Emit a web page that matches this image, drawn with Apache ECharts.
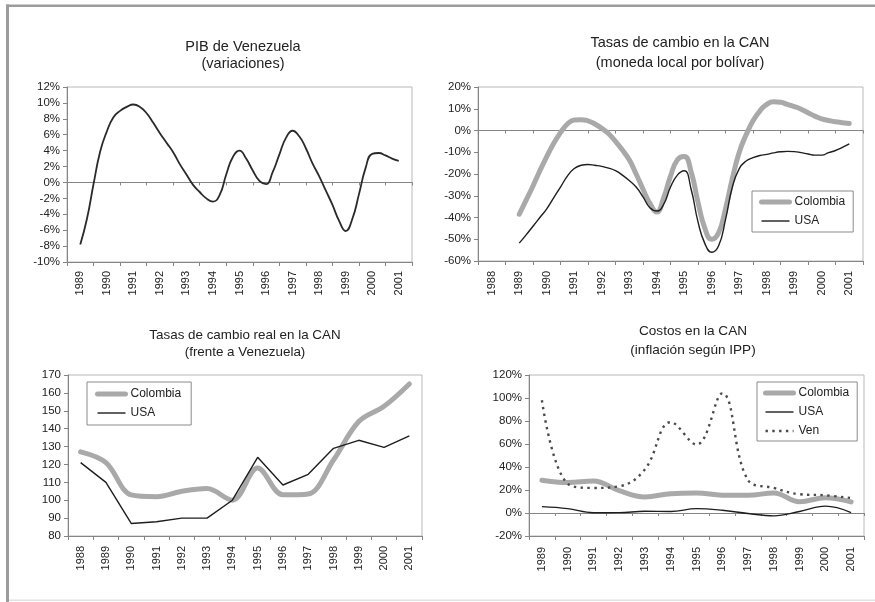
<!DOCTYPE html>
<html>
<head>
<meta charset="utf-8">
<script src="https://cdn.jsdelivr.net/npm/echarts@6/dist/echarts.min.js"></script>
<style>
  html, body { margin: 0; padding: 0; background: #fff; }
  #chart { width: 875px; height: 602px; }
</style>
</head>
<body>
<div id="chart"></div>
<script>
const FONT = 'Arial, "Liberation Sans", sans-serif'
const INK = '#222'
const AXIS_GRAY = '#858585'
const BORDER_GRAY = '#b8b8b8'
const THICK_GRAY = '#a9a9a9'
const DARK_LINE = '#1e1e1e'

// PIB de Venezuela, quarterly points starting at 1989 (%)
const pibYears = ['1989', '1990', '1991', '1992', '1993', '1994', '1995', '1996', '1997', '1998', '1999', '2000', '2001']
const pibQuarterly = [
  -7.8, -4.6, -0.2, 3.9,
  6.4, 8.2, 9.0, 9.5,
  9.8, 9.5, 8.7, 7.5,
  6.2, 5.0, 3.8, 2.3,
  1.0, -0.3, -1.2, -2.0,
  -2.4, -1.6, 1.0, 3.2,
  4.0, 3.0, 1.5, 0.2,
  -0.2, 1.3, 3.5, 5.6,
  6.5, 5.8, 4.3, 2.4,
  0.8, -1.0, -2.8, -4.8,
  -6.1, -4.6, -1.5, 1.8,
  3.6, 3.7, 3.4, 3.0,
  2.7,
]

// Tasas de cambio nominales, quarterly points starting at 1989 (%)
const canYears = ['1988', '1989', '1990', '1991', '1992', '1993', '1994', '1995', '1996', '1997', '1998', '1999', '2000', '2001']
const canColombia = [
  -38.5, -32, -25.5, -18.5,
  -12, -6, -1, 3,
  4.8, 5, 4.4, 3,
  1, -1.5, -5, -9,
  -13.5, -20, -27, -33.5,
  -37.5, -31, -21, -13.5,
  -12, -19, -33, -45,
  -50, -47, -36, -22,
  -10, -2, 4.5, 9,
  12, 13.2, 13, 12,
  11, 9.8, 8.2, 6.6,
  5.3, 4.6, 4, 3.6,
  3.2,
]
const canUsa = [
  -51.8, -48, -44, -40,
  -36, -31, -26, -21,
  -17.5, -16, -15.6, -16,
  -16.5, -17.3, -18.5, -20.5,
  -23, -26, -30.5, -35.5,
  -37, -34, -26, -20.5,
  -18.5, -27, -42, -52,
  -56, -53, -41, -26,
  -17.5, -14, -12.5, -11.5,
  -11, -10.3, -9.8, -9.6,
  -9.7, -10.2, -10.8, -11.3,
  -11.3, -10.2, -9.2, -7.8,
  -6.2,
]

// Tasas de cambio real (indice)
const realYears = ['1988', '1989', '1990', '1991', '1992', '1993', '1994', '1995', '1996', '1997', '1998', '1999', '2000', '2001']
const realColombia = [127, 121, 103, 102, 105, 106.5, 100, 118, 103, 103.5, 122.5, 144, 152.5, 165]
const realUsa = [121, 110, 87, 88, 90, 90, 100, 124, 108.5, 114.5, 129, 133.5, 129.5, 136]

// Inflacion segun IPP (%)
const ippYears = ['1989', '1990', '1991', '1992', '1993', '1994', '1995', '1996', '1997', '1998', '1999', '2000', '2001']
const ippColombia = [28.5, 26.5, 27.8, 19.5, 14, 16.8, 17.4, 15.5, 15.4, 17.4, 9.8, 13.2, 9.6]
const ippUsa = [5.5, 3.8, 0.2, 0.3, 1.5, 1.3, 3.8, 2.4, -0.4, -2.5, 1.3, 6.0, 0.4]
const ippVen = [98, 25.5, 21.8, 23.2, 38, 79, 59.5, 104, 28.5, 21.8, 16.3, 15.4, 13]

// quarterly values -> [fractional year, value]
const toQuarterPoints = (startYear, values) => values.map((v, i) => [startYear + i / 4, v])

const chart = echarts.init(document.getElementById('chart'))

const catAxis = (gridIndex, data, margin) => ({
  type: 'category',
  gridIndex,
  data,
  position: 'bottom',
  boundaryGap: true,
  axisLine: { onZero: false, lineStyle: { color: AXIS_GRAY, width: 1 } },
  axisTick: { show: true, interval: 0, length: 4, lineStyle: { color: AXIS_GRAY } },
  axisLabel: { rotate: 90, interval: 0, margin, fontSize: 11, color: INK, fontFamily: FONT },
  splitLine: { show: false },
})

// second category axis, only to draw the 0 line with its ticks
const zeroAxis = (gridIndex, data) => ({
  type: 'category',
  gridIndex,
  data,
  position: 'bottom',
  boundaryGap: true,
  axisLine: { onZero: true, lineStyle: { color: AXIS_GRAY, width: 1 } },
  axisTick: { show: true, interval: 0, length: 3, lineStyle: { color: AXIS_GRAY } },
  axisLabel: { show: false },
  splitLine: { show: false },
})

// hidden value axis for the quarterly curves (1 unit = 1 year)
const yearAxis = (gridIndex, years) => ({
  type: 'value',
  gridIndex,
  position: 'top',
  min: Number(years[0]) - 0.5,
  max: Number(years[years.length - 1]) + 0.5,
  show: false,
  axisLine: { onZero: false },
  splitLine: { show: false },
})

const valAxis = (gridIndex, min, max, interval, pct) => ({
  type: 'value',
  gridIndex,
  min,
  max,
  interval,
  axisLine: { show: true, onZero: false, lineStyle: { color: AXIS_GRAY, width: 1 } },
  axisTick: { show: true, length: 4, lineStyle: { color: AXIS_GRAY } },
  axisLabel: {
    margin: 7,
    fontSize: 11.5,
    color: INK,
    fontFamily: FONT,
    formatter: pct ? '{value}%' : '{value}',
  },
  splitLine: { show: false },
})

const gridBox = (left, top, width, height) => ({
  left, top, width, height,
  show: true,
  borderColor: BORDER_GRAY,
  borderWidth: 1,
  backgroundColor: 'transparent',
})

const titleBox = (text, x, top, fontSize, lineHeight) => ({
  text,
  left: x,
  top,
  textAlign: 'center',
  textVerticalAlign: 'top',
  padding: 0,
  textStyle: { fontSize, lineHeight, fontWeight: 'normal', color: INK, fontFamily: FONT },
})

const legendBox = (left, top, names, padding) => ({
  left,
  top,
  orient: 'vertical',
  data: names,
  itemWidth: 28,
  itemHeight: 12,
  itemGap: 7,
  padding,
  borderColor: '#8a8a8a',
  borderWidth: 1,
  borderRadius: 0,
  backgroundColor: '#fff',
  selectedMode: false,
  itemStyle: { opacity: 0 },
  lineStyle: { width: 'inherit' },
  textStyle: { fontSize: 12, color: INK, fontFamily: FONT },
})

const thick = { color: THICK_GRAY, width: 5, cap: 'round', join: 'round' }
const thin = { color: DARK_LINE, width: 1.4 }
const dotted = { color: '#4a4a4a', width: 2.4, type: [2.4, 4.4] }

const line = (name, xAxisIndex, yAxisIndex, data, style, smooth, z) => ({
  type: 'line',
  name,
  xAxisIndex,
  yAxisIndex,
  data,
  symbol: 'none',
  smooth,
  z,
  lineStyle: style,
  itemStyle: { color: style.color },
})

const option = {
  animation: false,
  backgroundColor: '#fff',
  textStyle: { fontFamily: FONT },
  graphic: [
    { type: 'rect', shape: { x: 6, y: 4.5, width: 869, height: 2.5 }, style: { fill: '#9c9c9c' }, silent: true },
    { type: 'rect', shape: { x: 6, y: 4.5, width: 3, height: 598 }, style: { fill: '#9c9c9c' }, silent: true },
    { type: 'rect', shape: { x: 9, y: 599.5, width: 866, height: 1.5 }, style: { fill: '#e2e2e2' }, silent: true },
  ],
  title: [
    titleBox('PIB de Venezuela\n(variaciones)', 243, 38, 14.5, 17),
    titleBox('Tasas de cambio en la CAN\n(moneda local por bolívar)', 680, 33, 14.5, 20),
    titleBox('Tasas de cambio real en la CAN\n(frente a Venezuela)', 245, 326.5, 13.4, 17),
    titleBox('Costos en la CAN\n(inflación según IPP)', 693, 321.5, 13.6, 19),
  ],
  legend: [
    legendBox(752, 191, ['Colombia', 'USA'], [5, 8, 5, 7]),
    legendBox(87, 382, ['Colombia', 'USA'], [6, 10, 6, 8]),
    legendBox(757, 382, ['Colombia', 'USA', 'Ven'], [5, 8, 4, 6]),
  ],
  grid: [
    gridBox(67, 87, 345, 175),
    gridBox(478, 87, 385, 174),
    gridBox(68, 375, 354, 161),
    gridBox(529, 375, 335, 161),
  ],
  xAxis: [
    catAxis(0, pibYears, 9),      // 0
    zeroAxis(0, pibYears),        // 1
    yearAxis(0, pibYears),        // 2
    catAxis(1, canYears, 10),     // 3
    zeroAxis(1, canYears),        // 4
    yearAxis(1, canYears),        // 5
    catAxis(2, realYears, 10),    // 6
    catAxis(3, ippYears, 11),     // 7
    zeroAxis(3, ippYears),        // 8
  ],
  yAxis: [
    valAxis(0, -10, 12, 2, true),
    valAxis(1, -60, 20, 10, true),
    valAxis(2, 80, 170, 10, false),
    valAxis(3, -20, 120, 20, true),
  ],
  series: [
    line('PIB', 2, 0, toQuarterPoints(Number(pibYears[0]), pibQuarterly), { color: '#2a2a2a', width: 1.8 }, 0.5, 3),

    line('Colombia', 5, 1, toQuarterPoints(Number(canYears[1]), canColombia), thick, 0.5, 2),
    line('USA', 5, 1, toQuarterPoints(Number(canYears[1]), canUsa), thin, 0.5, 3),

    line('Colombia', 6, 2, realColombia, thick, 0.35, 2),
    line('USA', 6, 2, realUsa, thin, false, 3),

    line('Colombia', 7, 3, ippColombia, thick, 0.4, 2),
    line('USA', 7, 3, ippUsa, thin, 0.4, 3),
    line('Ven', 7, 3, ippVen, dotted, 0.4, 3),
  ],
}

chart.setOption(option)
</script>
</body>
</html>
